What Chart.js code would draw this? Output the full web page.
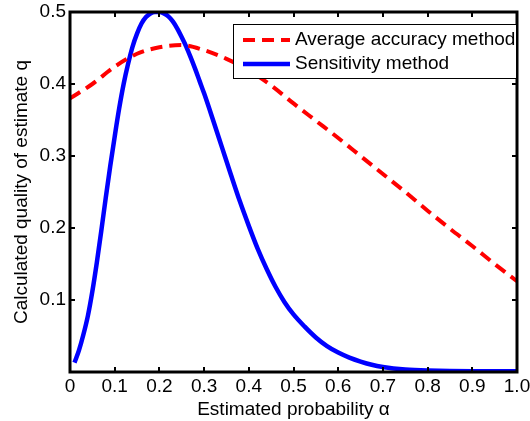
<!DOCTYPE html>
<html>
<head>
<meta charset="utf-8">
<script src="https://cdn.jsdelivr.net/npm/chart.js@4"></script>
<style>
  html, body { margin: 0; padding: 0; background: #fff; }
</style>
</head>
<body>
<canvas id="chart" width="530" height="421"></canvas>
<script>
// Average accuracy method (red dashed)
const accAlpha = [0, 0.05, 0.1, 0.15, 0.2, 0.25, 0.3, 0.35, 0.4, 0.45, 0.5,
                  0.55, 0.6, 0.65, 0.7, 0.75, 0.8, 0.85, 0.9, 0.95, 1.0];
const accQuality = [0.380, 0.400, 0.424, 0.442, 0.451, 0.454, 0.447, 0.435, 0.419, 0.398, 0.373,
                    0.349, 0.325, 0.300, 0.275, 0.250, 0.224, 0.199, 0.175, 0.150, 0.126];

// Sensitivity method (blue solid)
const sensAlpha = [0.01, 0.02, 0.03, 0.04, 0.05, 0.06, 0.07, 0.08, 0.09, 0.10,
                   0.11, 0.12, 0.13, 0.14, 0.15, 0.16, 0.17, 0.18, 0.19, 0.20,
                   0.21, 0.22, 0.23, 0.24, 0.25, 0.26, 0.27, 0.28, 0.29, 0.30,
                   0.32, 0.34, 0.36, 0.38, 0.40, 0.42, 0.44, 0.46, 0.48, 0.50,
                   0.525, 0.55, 0.575, 0.60, 0.625, 0.65, 0.675, 0.70, 0.75, 0.80, 0.90, 1.0];
const sensQuality = [0.013, 0.030, 0.052, 0.078, 0.112, 0.152, 0.196, 0.242, 0.286, 0.327,
                     0.366, 0.400, 0.428, 0.452, 0.470, 0.484, 0.493, 0.498, 0.500, 0.500,
                     0.498, 0.494, 0.487, 0.477, 0.465, 0.452, 0.437, 0.421, 0.404, 0.387,
                     0.350, 0.312, 0.274, 0.237, 0.203, 0.171, 0.143, 0.118, 0.097, 0.080,
                     0.063, 0.048, 0.036, 0.027, 0.020, 0.0145, 0.010, 0.007, 0.0035, 0.002, 0.001, 0.001];

// Axis ticks
const xTicks = [0, 0.1, 0.2, 0.3, 0.4, 0.5, 0.6, 0.7, 0.8, 0.9, 1.0];
const yTicks = [0.1, 0.2, 0.3, 0.4, 0.5];

const FONT = '"Liberation Sans", Arial, Helvetica, sans-serif';

function toPoints(xs, ys) {
    return xs.map((x, i) => ({ x: x, y: ys[i] }));
}

// Draw the MATLAB style box, inward ticks and the legend inside the plot
const framePlugin = {
    id: 'frame',
    afterDatasetsDraw(chart) {
        const ctx = chart.ctx;
        const a = chart.chartArea;
        const xs = chart.scales.x;
        const ys = chart.scales.y;
        ctx.save();

        // ticks
        ctx.strokeStyle = '#000';
        ctx.lineWidth = 2;
        ctx.beginPath();
        xTicks.forEach(v => {
            const px = Math.round(xs.getPixelForValue(v));
            ctx.moveTo(px, a.bottom); ctx.lineTo(px, a.bottom - 5);
            ctx.moveTo(px, a.top); ctx.lineTo(px, a.top + 5);
        });
        yTicks.forEach(v => {
            const py = Math.round(ys.getPixelForValue(v));
            ctx.moveTo(a.left, py); ctx.lineTo(a.left + 5, py);
            ctx.moveTo(a.right, py); ctx.lineTo(a.right - 5, py);
        });
        ctx.stroke();

        // box
        ctx.lineWidth = 3;
        ctx.strokeRect(a.left, a.top, a.right - a.left, a.bottom - a.top);

        // legend
        const lx = 233, ly = 24, lw = a.right - 233, lh = 55;
        ctx.fillStyle = '#fff';
        ctx.fillRect(lx, ly, lw, lh);
        ctx.lineWidth = 1;
        ctx.strokeStyle = '#000';
        ctx.strokeRect(lx + 0.5, ly + 0.5, lw - 1, lh - 1);
        ctx.font = '19px ' + FONT;
        ctx.textBaseline = 'middle';
        ctx.textAlign = 'left';
        chart.data.datasets.forEach((ds, i) => {
            const y = 40 + i * 24;
            ctx.strokeStyle = ds.borderColor;
            ctx.lineWidth = ds.borderWidth;
            ctx.setLineDash(ds.borderDash || []);
            ctx.beginPath();
            ctx.moveTo(243, y); ctx.lineTo(290, y);
            ctx.stroke();
            ctx.setLineDash([]);
            ctx.fillStyle = '#000';
            ctx.fillText(ds.label, 295, y);
        });
        ctx.restore();
    }
};

const chart = new Chart(document.getElementById('chart').getContext('2d'), {
    type: 'line',
    data: {
        datasets: [
            {
                label: 'Average accuracy method',
                data: toPoints(accAlpha, accQuality),
                borderColor: '#ff0000',
                borderWidth: 4,
                borderDash: [12, 7],
                pointRadius: 0,
                cubicInterpolationMode: 'monotone',
                fill: false
            },
            {
                label: 'Sensitivity method',
                data: toPoints(sensAlpha, sensQuality),
                borderColor: '#0000ff',
                borderWidth: 4.5,
                pointRadius: 0,
                cubicInterpolationMode: 'monotone',
                fill: false
            }
        ]
    },
    options: {
        responsive: false,
        animation: false,
        layout: { padding: { top: 12, right: 13, left: 0, bottom: 0 } },
        plugins: {
            legend: { display: false },
            tooltip: { enabled: false }
        },
        scales: {
            x: {
                type: 'linear',
                min: 0,
                max: 1,
                grid: { display: false, drawTicks: false },
                border: { display: false },
                ticks: {
                    stepSize: 0.1,
                    autoSkip: false,
                    maxRotation: 0,
                    padding: 3,
                    color: '#000',
                    font: { family: FONT, size: 19 },
                    callback: v => v === 0 ? '0' : v.toFixed(1)
                },
                title: {
                    display: true,
                    text: 'Estimated probability α',
                    color: '#000',
                    font: { family: FONT, size: 19 },
                    padding: { top: 0, bottom: 0 }
                },
                afterFit: s => {
                    s.height = 49;
                    s.paddingLeft = 0;
                    s.paddingRight = 0;
                }
            },
            y: {
                min: 0,
                max: 0.5,
                grid: { display: false, drawTicks: false },
                border: { display: false },
                ticks: {
                    stepSize: 0.1,
                    padding: 4,
                    color: '#000',
                    font: { family: FONT, size: 19 },
                    callback: v => v === 0 ? '' : v.toFixed(1)
                },
                title: {
                    display: true,
                    text: 'Calculated quality of estimate q',
                    color: '#000',
                    font: { family: FONT, size: 19 },
                    padding: { top: 10, bottom: 0 }
                },
                afterFit: s => {
                    s.width = 70;
                    s.paddingTop = 0;
                    s.paddingBottom = 0;
                }
            }
        }
    },
    plugins: [framePlugin]
});
</script>
</body>
</html>
